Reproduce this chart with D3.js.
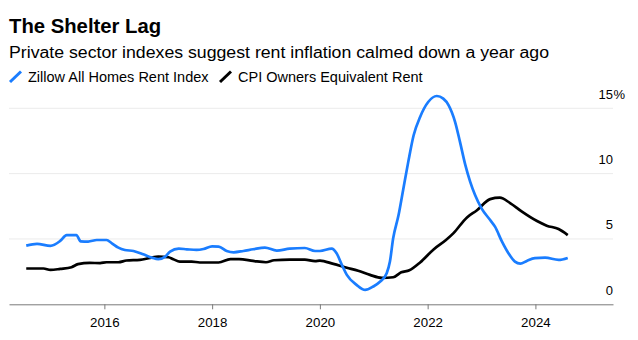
<!DOCTYPE html>
<html>
<head>
<meta charset="utf-8">
<script src="https://cdn.jsdelivr.net/npm/d3@7"></script>
<style>
  body { margin: 0; background: #fff; }
  text { font-family: "Liberation Sans", Arial, sans-serif; fill: #000; }
</style>
</head>
<body>
<script>
var svgWidth = 638;
var svgHeight = 340;

// decimal year / year-over-year % change
var zillowYears = [2014.55, 2014.75, 2015.00, 2015.18, 2015.30, 2015.48, 2015.56, 2015.70, 2015.86, 2016.04,
  2016.14, 2016.26, 2016.38, 2016.54, 2016.72, 2016.88, 2017.00, 2017.13, 2017.22, 2017.38,
  2017.53, 2017.71, 2017.84, 2018.00, 2018.12, 2018.27, 2018.40, 2018.58, 2018.76, 2018.98,
  2019.20, 2019.44, 2019.72, 2019.91, 2020.00, 2020.22, 2020.31, 2020.41, 2020.50, 2020.68,
  2020.84, 2020.99, 2021.12, 2021.24, 2021.30, 2021.36, 2021.46, 2021.55, 2021.64, 2021.74,
  2021.86, 2022.01, 2022.17, 2022.29, 2022.39, 2022.51, 2022.60, 2022.70, 2022.79, 2022.88,
  2023.00, 2023.16, 2023.25, 2023.38, 2023.50, 2023.62, 2023.72, 2023.84, 2023.99, 2024.18,
  2024.43, 2024.60];
var zillowValues = [4.49, 4.62, 4.47, 4.85, 5.30, 5.30, 4.82, 4.80, 4.92, 4.92,
  4.67, 4.34, 4.16, 4.08, 3.83, 3.57, 3.45, 3.65, 4.03, 4.26,
  4.21, 4.16, 4.23, 4.44, 4.42, 4.08, 3.98, 4.08, 4.21, 4.34,
  4.11, 4.26, 4.31, 4.08, 4.08, 4.26, 3.90, 3.00, 2.25, 1.49,
  1.10, 1.36, 1.74, 2.38, 3.27, 5.05, 6.83, 8.87, 10.90, 12.94,
  14.34, 15.48, 15.94, 15.74, 15.23, 13.95, 12.43, 10.65, 9.37, 8.36,
  7.34, 6.45, 5.94, 4.79, 3.90, 3.27, 3.11, 3.32, 3.53, 3.57,
  3.40, 3.55];

var cpiYears = [2014.55, 2014.87, 2015.00, 2015.18, 2015.39, 2015.51, 2015.73, 2015.92, 2016.04, 2016.26,
  2016.41, 2016.66, 2016.85, 2017.00, 2017.19, 2017.28, 2017.40, 2017.62, 2017.77, 2017.96,
  2018.12, 2018.34, 2018.50, 2018.76, 2019.00, 2019.15, 2019.44, 2019.72, 2019.91, 2020.00,
  2020.25, 2020.50, 2020.71, 2020.93, 2021.15, 2021.36, 2021.51, 2021.66, 2021.86, 2022.11,
  2022.34, 2022.48, 2022.73, 2022.91, 2023.16, 2023.34, 2023.53, 2023.75, 2024.03, 2024.21,
  2024.43, 2024.60];
var cpiValues = [2.74, 2.74, 2.63, 2.71, 2.84, 3.07, 3.17, 3.15, 3.22, 3.22,
  3.35, 3.40, 3.55, 3.65, 3.60, 3.45, 3.27, 3.27, 3.20, 3.20,
  3.20, 3.45, 3.45, 3.32, 3.22, 3.37, 3.42, 3.42, 3.30, 3.35,
  3.09, 2.80, 2.57, 2.25, 2.02, 2.07, 2.45, 2.60, 3.20, 4.20,
  4.92, 5.45, 6.65, 7.18, 8.05, 8.16, 7.75, 7.09, 6.37, 6.02,
  5.76, 5.30];

var xTicks = [2016, 2018, 2020, 2022, 2024];
var yTicks = [0, 5, 10, 15];

var seriesNames = ["Zillow All Homes Rent Index", "CPI Owners Equivalent Rent"];
var seriesColors = ["#1a7dff", "#000000"];

var svg = d3.select("body")
  .append("svg")
  .attr("width", svgWidth)
  .attr("height", svgHeight);

// header
svg.append("text")
  .attr("x", 9)
  .attr("y", 33)
  .attr("font-size", "20.3px")
  .attr("font-weight", "bold")
  .text("The Shelter Lag");

svg.append("text")
  .attr("x", 9)
  .attr("y", 57.5)
  .attr("font-size", "17.3px")
  .attr("textLength", 540)
  .attr("lengthAdjust", "spacingAndGlyphs")
  .text("Private sector indexes suggest rent inflation calmed down a year ago");

// legend
var legendX = [10, 220];
seriesNames.forEach(function (name, i) {
  svg.append("line")
    .attr("x1", legendX[i]).attr("y1", 82)
    .attr("x2", legendX[i] + 11).attr("y2", 71.5)
    .attr("stroke", seriesColors[i])
    .attr("stroke-width", 3);
  svg.append("text")
    .attr("x", legendX[i] + 18)
    .attr("y", 82)
    .attr("font-size", "14.5px")
    .text(name);
});

var x = d3.scaleLinear()
  .domain([2014.23, 2025.44])
  .range([9, 613]);

var y = d3.scaleLinear()
  .domain([0, 15])
  .range([304.3, 108.3]);

// gridlines
svg.append("g")
  .selectAll("line")
  .data(yTicks.filter(d => d > 0))
  .enter()
  .append("line")
  .attr("x1", x.range()[0])
  .attr("x2", x.range()[1])
  .attr("y1", d => y(d))
  .attr("y2", d => y(d))
  .attr("stroke", "#ebebeb")
  .attr("stroke-width", 1);

// y labels sit above their gridlines, right aligned
svg.append("g")
  .selectAll("text")
  .data(yTicks)
  .enter()
  .append("text")
  .attr("x", 613)
  .attr("y", d => y(d) - 9.5)
  .attr("text-anchor", "end")
  .attr("font-size", "13px")
  .text(d => d);

svg.append("text")
  .attr("x", 613.5)
  .attr("y", y(15) - 9.5)
  .attr("font-size", "13px")
  .text("%");

// x axis
var xAxis = svg.append("g")
  .attr("transform", `translate(0, ${y(0)})`)
  .call(d3.axisBottom(x)
    .tickValues(xTicks)
    .tickFormat(d3.format("d"))
    .tickSize(5)
    .tickPadding(8)
    .tickSizeOuter(0));

xAxis.select(".domain").attr("stroke", "#7a7a7a");
xAxis.selectAll(".tick line").attr("stroke", "#7a7a7a");
xAxis.selectAll(".tick text")
  .attr("font-family", "Liberation Sans, Arial, sans-serif")
  .attr("font-size", "13.3px")
  .attr("fill", "#000");

// lines
var line = d3.line()
  .x(d => x(d[0]))
  .y(d => y(d[1]))
  .curve(d3.curveMonotoneX);

var cpiData = d3.zip(cpiYears, cpiValues);
var zillowData = d3.zip(zillowYears, zillowValues);

svg.append("path")
  .datum(cpiData)
  .attr("fill", "none")
  .attr("stroke", seriesColors[1])
  .attr("stroke-width", 2.7)
  .attr("stroke-linejoin", "round")
  .attr("d", line);

svg.append("path")
  .datum(zillowData)
  .attr("fill", "none")
  .attr("stroke", seriesColors[0])
  .attr("stroke-width", 2.7)
  .attr("stroke-linejoin", "round")
  .attr("d", line);
</script>
</body>
</html>
